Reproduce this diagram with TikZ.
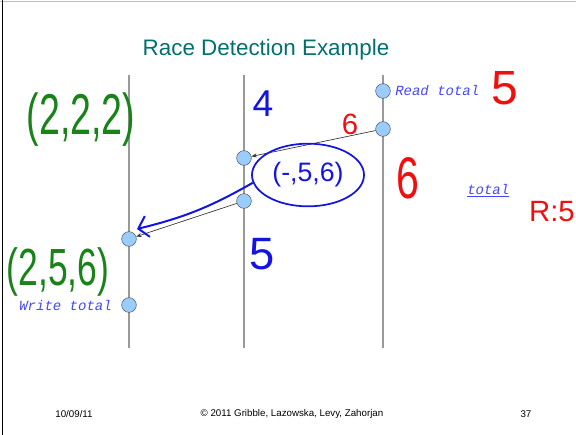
\documentclass[tikz,border=0pt]{standalone}
\usepackage{fontspec}
\setmainfont{Liberation Sans}
\newfontfamily\codefont{Liberation Mono}
\usepackage{tikz}
\usetikzlibrary{shapes.geometric, arrows.meta, positioning}
\usepackage{xcolor}
\definecolor{slideteal}{RGB}{0,112,112}
\definecolor{eventblue}{RGB}{153,204,255}
\definecolor{codeblue}{RGB}{70,70,255}
\definecolor{penblue}{RGB}{20,20,225}
\definecolor{pengreen}{RGB}{25,130,25}
\definecolor{penred}{RGB}{240,15,15}

\begin{document}
\begin{tikzpicture}[x=0.75pt, y=-0.75pt,
    thread/.style = {draw=black!40, line width=1.2pt},
    event/.style = {circle, draw=black!65, fill=eventblue, thin, minimum size=11pt, inner sep=0pt},
    msg/.style = {draw=black!80, -{Stealth[length=4pt, width=3pt]}, line width=0.5pt},
    codelabel/.style = {font=\codefont\itshape\fontsize{10.5}{12}\selectfont, text=codeblue, inner sep=0pt},
    pen/.style = {inner sep=0pt, font=\fontsize{#1}{#1}\selectfont},
    footer/.style = {font=\fontsize{7.3}{9}\selectfont, inner sep=0pt}
]
\useasboundingbox (0,0) rectangle (576,435);

% Slide frame
\draw [black!25, line width=0.8pt] (0,1.5) -- (576,1.5);
\draw [black, line width=0.8pt] (2.5,0) -- (2.5,435);

% Title
\node (title) [font=\fontsize{16.8}{20}\selectfont, text=slideteal] at (266,50) {Race Detection Example};

% Threads (3 vertical time lines)
\draw [thread] (129,75) -- (129,348);
\draw [thread] (244,75) -- (244,348);
\draw [thread] (383,75) -- (383,348);

% Events on each thread
\node (t3a) [event] at (383,91) {};
\node (t3b) [event] at (383,129) {};
\node (t2a) [event] at (244,158) {};
\node (t2b) [event] at (244,201) {};
\node (t1a) [event] at (129,239) {};
\node (t1b) [event] at (129,305) {};

% Synchronization edges
\draw [msg] (t3b) -- (t2a);
\draw [msg] (t2b) -- (t1a);

% Access labels
\node (readlbl) [codelabel, anchor=west] at (395,91) {Read total};
\node (writelbl) [codelabel, anchor=east] at (112,305) {Write total};
\node (totallbl) [codelabel, anchor=west] at (467,191) {\underline{total}};

% Pen annotations
\node (vc1) [pen=32, text=pengreen, xscale=0.88, yscale=1.35] at (81,120) {(2,2,2)};
\node (c4) [pen=28, text=penblue] at (263,104) {4};
\node (c6a) [pen=22, text=penred] at (350,124) {6};
\node (c5r) [pen=36, text=penred] at (505,88) {5};
\node (c6b) [pen=44, text=penred, xscale=0.7] at (408,178) {6};
\node (vc2) [pen=20, text=penblue, ellipse, draw=penblue, line width=1.3pt, inner sep=0pt, minimum width=84pt, minimum height=47pt] at (308,175) {(-,5,6)};
\node (c5b) [pen=34, text=penblue] at (262,254) {5};
\node (vc3) [pen=28, text=pengreen, xscale=0.95, yscale=1.4] at (58,272) {(2,5,6)};
\node (rd) [pen=22, text=penred, anchor=east] at (575,212) {R:5};

% Hand-drawn arrow
\coordinate (penhead) at (137,229);
\draw [penblue, line width=1.5pt, -{Straight Barb[length=7pt, width=16pt]}] (vc2.188) to[bend left=8] (penhead);

% Footer
\node (date) [footer] at (74,414) {10/09/11};
\node (copy) [footer] at (292,414) {© 2011 Gribble, Lazowska, Levy, Zahorjan};
\node (page) [footer] at (526,414) {37};

\end{tikzpicture}
\end{document}
